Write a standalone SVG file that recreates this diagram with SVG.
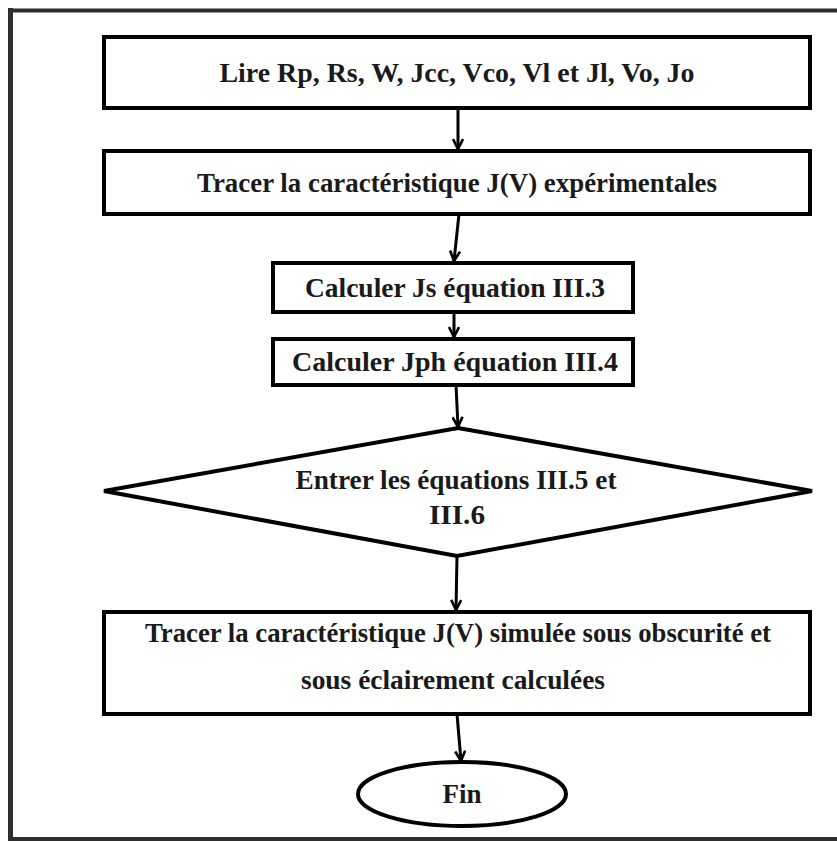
<svg xmlns="http://www.w3.org/2000/svg" width="837" height="841" viewBox="0 0 837 841">
  <style>
    .box { fill: #ffffff; stroke: #000000; stroke-width: 4; }
    .lbl { font-family: "Liberation Serif", "Times New Roman", serif; font-size: 27px; font-weight: bold; fill: #1a1a1a; text-anchor: middle; }
    .edge { stroke: #000000; stroke-width: 3; fill: none; marker-end: url(#head); }
    .frame { stroke: #2e2e2e; fill: none; }
  </style>
  <defs>
    <marker id="head" viewBox="0 0 12 12" refX="11" refY="6" markerWidth="12" markerHeight="12" markerUnits="userSpaceOnUse" orient="auto">
      <path d="M1,1 L11,6 L1,11" fill="none" stroke="#000" stroke-width="2.6"/>
    </marker>
  </defs>

  <rect width="837" height="841" fill="#ffffff"/>

  <!-- page frame -->
  <g id="frame">
    <line class="frame" x1="8" y1="10.5" x2="837" y2="10.5" stroke-width="4"/>
    <line class="frame" x1="10.5" y1="8" x2="10.5" y2="841" stroke-width="5"/>
    <line class="frame" x1="8" y1="839" x2="837" y2="839" stroke-width="4"/>
  </g>

  <!-- connectors -->
  <g id="connectors">
    <line class="edge" x1="458" y1="108" x2="458" y2="149"/>
    <line class="edge" x1="459" y1="214" x2="454" y2="261"/>
    <line class="edge" x1="454" y1="312" x2="454" y2="337"/>
    <line class="edge" x1="456" y1="385" x2="458" y2="427"/>
    <line class="edge" x1="457" y1="556" x2="456" y2="610"/>
    <line class="edge" x1="457" y1="714" x2="461" y2="761"/>
  </g>

  <g id="read-inputs">
    <rect class="box" x="104" y="37" width="706" height="71"/>
    <text class="lbl" x="457" y="82" textLength="475" lengthAdjust="spacingAndGlyphs">Lire  Rp, Rs, W, Jcc, Vco, Vl et Jl, Vo, Jo</text>
  </g>

  <g id="plot-experimental">
    <rect class="box" x="104" y="151" width="706" height="63"/>
    <text class="lbl" x="457" y="192" textLength="520" lengthAdjust="spacingAndGlyphs">Tracer la caractéristique J(V) expérimentales</text>
  </g>

  <g id="compute-js">
    <rect class="box" x="273" y="263" width="360" height="49"/>
    <text class="lbl" x="455" y="297" textLength="300" lengthAdjust="spacingAndGlyphs">Calculer Js  équation III.3</text>
  </g>

  <g id="compute-jph">
    <rect class="box" x="273" y="339" width="360" height="46"/>
    <text class="lbl" x="455" y="371" textLength="326" lengthAdjust="spacingAndGlyphs">Calculer Jph  équation  III.4</text>
  </g>

  <g id="enter-equations">
    <polygon class="box" points="458,428 812,491 457,556 104,491"/>
    <text class="lbl" x="456" y="489" textLength="321" lengthAdjust="spacingAndGlyphs">Entrer les équations III.5 et</text>
    <text class="lbl" x="457" y="524" textLength="56" lengthAdjust="spacingAndGlyphs">III.6</text>
  </g>

  <g id="plot-simulated">
    <rect class="box" x="104" y="612" width="706" height="102"/>
    <text class="lbl" x="458" y="642" textLength="626" lengthAdjust="spacingAndGlyphs">Tracer la caractéristique J(V) simulée sous obscurité et</text>
    <text class="lbl" x="453" y="689" textLength="304" lengthAdjust="spacingAndGlyphs">sous éclairement  calculées</text>
  </g>

  <g id="end">
    <ellipse class="box" cx="462" cy="794" rx="104" ry="32" stroke-width="3.5"/>
    <text class="lbl" x="462" y="803" textLength="39" lengthAdjust="spacingAndGlyphs">Fin</text>
  </g>
</svg>
